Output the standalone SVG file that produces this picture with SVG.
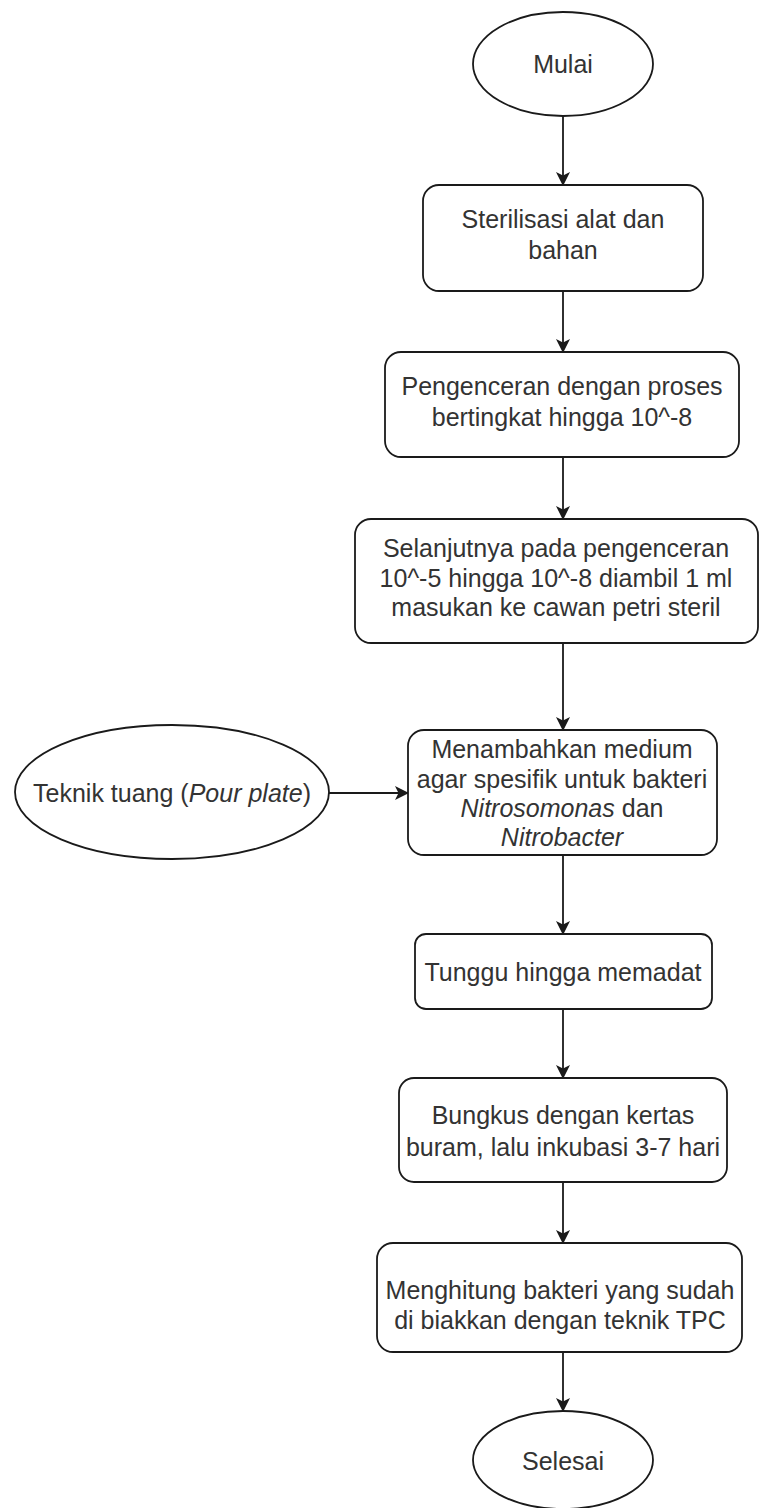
<svg xmlns="http://www.w3.org/2000/svg" width="760" height="1508" viewBox="0 0 760 1508">
<defs>
<style>
.n{fill:#fff;stroke:#1a1a1a;stroke-width:1.8}
.t{font-family:"Liberation Sans",Arial,sans-serif;font-size:25px;fill:#333;text-anchor:middle}
.c{stroke:#1a1a1a;stroke-width:1.8;fill:none;marker-end:url(#ah)}
</style>
<marker id="ah" viewBox="0 0 14 14" refX="13" refY="7" markerWidth="14" markerHeight="14" markerUnits="userSpaceOnUse" orient="auto">
<path d="M0,0 L14,7 L0,14 L3.5,7 Z" fill="#1a1a1a"/>
</marker>
</defs>
<rect width="760" height="1508" fill="#fff"/>
<g id="connectors">
<line class="c" x1="563" y1="116" x2="563" y2="185"/>
<line class="c" x1="563" y1="291" x2="563" y2="352"/>
<line class="c" x1="563" y1="457" x2="563" y2="519"/>
<line class="c" x1="563" y1="643" x2="563" y2="730"/>
<line class="c" x1="563" y1="855" x2="563" y2="934"/>
<line class="c" x1="563" y1="1009" x2="563" y2="1078"/>
<line class="c" x1="563" y1="1182" x2="563" y2="1243"/>
<line class="c" x1="563" y1="1352" x2="563" y2="1411"/>
<line class="c" x1="329" y1="793" x2="408" y2="793"/>
</g>
<g id="start">
<ellipse class="n" cx="563" cy="64" rx="90" ry="52"/>
<text class="t" x="563" y="73">Mulai</text>
</g>
<g id="step1">
<rect class="n" x="423" y="185" width="280" height="106" rx="16"/>
<text class="t" x="563" y="228">Sterilisasi alat dan</text>
<text class="t" x="563" y="259">bahan</text>
</g>
<g id="step2">
<rect class="n" x="385" y="352" width="354" height="105" rx="16"/>
<text class="t" x="562" y="395">Pengenceran dengan proses</text>
<text class="t" x="562" y="426">bertingkat hingga 10^-8</text>
</g>
<g id="step3">
<rect class="n" x="355" y="519" width="403" height="124" rx="16"/>
<text class="t" x="556" y="557">Selanjutnya pada pengenceran</text>
<text class="t" x="556" y="587">10^-5 hingga 10^-8 diambil 1 ml</text>
<text class="t" x="556" y="616">masukan ke cawan petri steril</text>
</g>
<g id="pourplate">
<ellipse class="n" cx="172" cy="792" rx="157" ry="67"/>
<text class="t" x="172" y="802">Teknik tuang (<tspan font-style="italic">Pour plate</tspan>)</text>
</g>
<g id="step4">
<rect class="n" x="408" y="730" width="309" height="125" rx="16"/>
<text class="t" x="562" y="758">Menambahkan medium</text>
<text class="t" x="562" y="788">agar spesifik untuk bakteri</text>
<text class="t" x="562" y="817"><tspan font-style="italic">Nitrosomonas</tspan> dan</text>
<text class="t" x="562" y="846" font-style="italic">Nitrobacter</text>
</g>
<g id="step5">
<rect class="n" x="415" y="934" width="297" height="75" rx="11"/>
<text class="t" x="563" y="981">Tunggu hingga memadat</text>
</g>
<g id="step6">
<rect class="n" x="399" y="1078" width="328" height="104" rx="15"/>
<text class="t" x="563" y="1124">Bungkus dengan kertas</text>
<text class="t" x="563" y="1156">buram, lalu inkubasi 3-7 hari</text>
</g>
<g id="step7">
<rect class="n" x="377" y="1243" width="365" height="109" rx="16"/>
<text class="t" x="560" y="1299">Menghitung bakteri yang sudah</text>
<text class="t" x="560" y="1329">di biakkan dengan teknik TPC</text>
</g>
<g id="end">
<ellipse class="n" cx="563" cy="1460" rx="90" ry="49"/>
<text class="t" x="563" y="1470">Selesai</text>
</g>
</svg>
